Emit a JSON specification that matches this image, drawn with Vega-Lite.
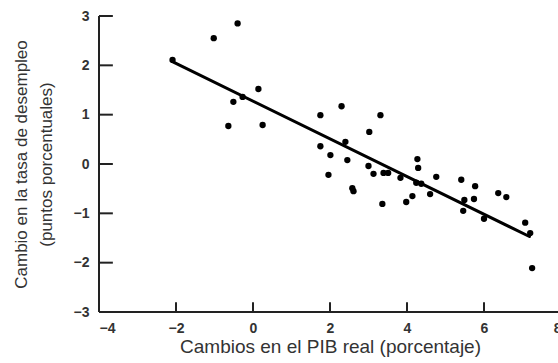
{
  "$schema": "https://vega.github.io/schema/vega-lite/v6.json",
  "width": 462,
  "height": 296,
  "autosize": {"type": "none"},
  "padding": {"left": 99, "top": 16, "right": 0, "bottom": 51},
  "background": "white",
  "config": {
    "view": {"stroke": null},
    "font": "Liberation Sans",
    "axis": {
      "domain": false,
      "ticks": false,
      "grid": false,
      "labelColor": "#333333",
      "labelFont": "Liberation Sans",
      "labelFontSize": 14,
      "labelFontWeight": "bold",
      "titleColor": "#333333",
      "titleFont": "Liberation Sans",
      "titleFontSize": 17,
      "titleFontWeight": "normal"
    }
  },
  "datasets": {
    "obs": [
      {"pib": -2.09, "desempleo": 2.11},
      {"pib": -1.02, "desempleo": 2.55},
      {"pib": -0.4, "desempleo": 2.85},
      {"pib": -0.64, "desempleo": 0.77},
      {"pib": -0.51, "desempleo": 1.26},
      {"pib": -0.27, "desempleo": 1.36},
      {"pib": 0.14, "desempleo": 1.52},
      {"pib": 0.25, "desempleo": 0.79},
      {"pib": 1.75, "desempleo": 0.99},
      {"pib": 2.3, "desempleo": 1.17},
      {"pib": 3.31, "desempleo": 0.99},
      {"pib": 3.02, "desempleo": 0.65},
      {"pib": 2.4, "desempleo": 0.45},
      {"pib": 1.75, "desempleo": 0.36},
      {"pib": 2.01, "desempleo": 0.18},
      {"pib": 2.45, "desempleo": 0.08},
      {"pib": 3.0, "desempleo": -0.04},
      {"pib": 1.96, "desempleo": -0.22},
      {"pib": 3.13, "desempleo": -0.2},
      {"pib": 3.39, "desempleo": -0.18},
      {"pib": 3.51, "desempleo": -0.18},
      {"pib": 2.58, "desempleo": -0.49},
      {"pib": 2.61, "desempleo": -0.55},
      {"pib": 3.36, "desempleo": -0.81},
      {"pib": 3.83, "desempleo": -0.28},
      {"pib": 4.27, "desempleo": 0.1},
      {"pib": 4.29, "desempleo": -0.08},
      {"pib": 4.76, "desempleo": -0.26},
      {"pib": 4.24, "desempleo": -0.38},
      {"pib": 4.37, "desempleo": -0.4},
      {"pib": 4.14, "desempleo": -0.65},
      {"pib": 3.98, "desempleo": -0.77},
      {"pib": 4.6, "desempleo": -0.61},
      {"pib": 5.41, "desempleo": -0.32},
      {"pib": 5.77, "desempleo": -0.45},
      {"pib": 5.49, "desempleo": -0.73},
      {"pib": 5.74, "desempleo": -0.71},
      {"pib": 5.46, "desempleo": -0.95},
      {"pib": 6.0, "desempleo": -1.11},
      {"pib": 6.37, "desempleo": -0.59},
      {"pib": 6.58, "desempleo": -0.67},
      {"pib": 7.07, "desempleo": -1.19},
      {"pib": 7.2, "desempleo": -1.4},
      {"pib": 7.25, "desempleo": -2.11}
    ],
    "ajuste": [
      {"pib": -2.08, "desempleo": 2.07},
      {"pib": 7.18, "desempleo": -1.47}
    ],
    "ejes": [
      {"pib": -4, "pib2": 8, "desempleo": -3, "desempleo2": -3},
      {"pib": -4, "pib2": -4, "desempleo": -3, "desempleo2": 3},
      {"pib": -2, "pib2": -2, "desempleo": -3, "desempleo2": -2.8},
      {"pib": 0, "pib2": 0, "desempleo": -3, "desempleo2": -2.8},
      {"pib": 2, "pib2": 2, "desempleo": -3, "desempleo2": -2.8},
      {"pib": 4, "pib2": 4, "desempleo": -3, "desempleo2": -2.8},
      {"pib": 6, "pib2": 6, "desempleo": -3, "desempleo2": -2.8},
      {"pib": -4, "pib2": -3.64, "desempleo": -2, "desempleo2": -2},
      {"pib": -4, "pib2": -3.64, "desempleo": -1, "desempleo2": -1},
      {"pib": -4, "pib2": -3.64, "desempleo": 0, "desempleo2": 0},
      {"pib": -4, "pib2": -3.64, "desempleo": 1, "desempleo2": 1},
      {"pib": -4, "pib2": -3.64, "desempleo": 2, "desempleo2": 2},
      {"pib": -4, "pib2": -3.64, "desempleo": 3, "desempleo2": 3}
    ]
  },
  "encoding": {
    "x": {
      "field": "pib",
      "type": "quantitative",
      "scale": {"domain": [-4, 8], "nice": false, "zero": false},
      "axis": {
        "title": "Cambios en el PIB real (porcentaje)",
        "titleFontSize": 19,
        "values": [-4, -2, 0, 2, 4, 6, 8],
        "labelPadding": 9,
        "titlePadding": 2
      }
    },
    "y": {
      "field": "desempleo",
      "type": "quantitative",
      "scale": {"domain": [-3, 3], "nice": false, "zero": false},
      "axis": {
        "title": ["Cambio en la tasa de desempleo", "(puntos porcentuales)"],
        "values": [-3, -2, -1, 0, 1, 2, 3],
        "labelPadding": 10,
        "titlePadding": 18,
        "titleLineHeight": 25
      }
    }
  },
  "layer": [
    {
      "data": {"name": "ejes"},
      "mark": {"type": "rule", "color": "#222222", "strokeWidth": 2},
      "encoding": {
        "x2": {"field": "pib2"},
        "y2": {"field": "desempleo2"}
      }
    },
    {
      "data": {"name": "ajuste"},
      "mark": {"type": "line", "color": "black", "strokeWidth": 3, "strokeCap": "round"}
    },
    {
      "data": {"name": "obs"},
      "mark": {"type": "circle", "color": "black", "opacity": 1, "size": 40}
    }
  ]
}
